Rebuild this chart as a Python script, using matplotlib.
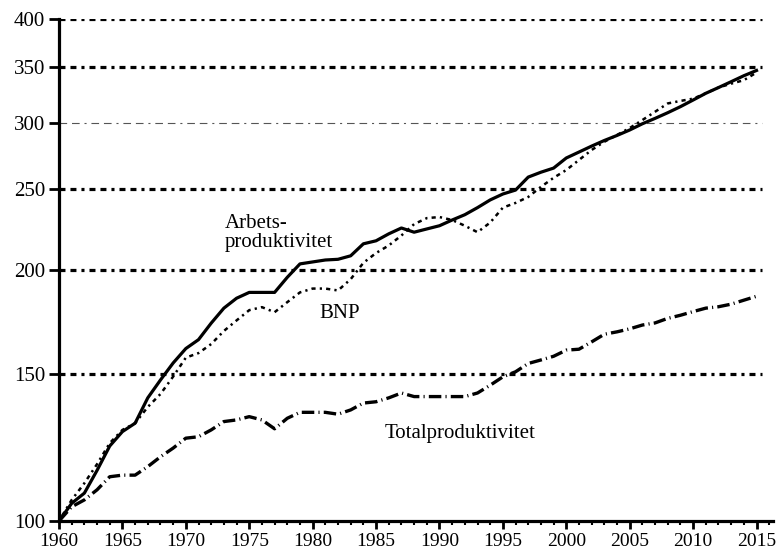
import matplotlib
matplotlib.use('Agg')
from matplotlib import pyplot as plt
from matplotlib.ticker import FixedLocator, NullLocator, MultipleLocator

# Index 1960 = 100
years = list(range(1960, 2016))

arbets = [100, 105, 108, 115, 123, 128, 131, 140.5, 147.6, 154.7, 161, 165, 172.7, 180, 185,
          188, 188, 188, 196, 203.4, 204.5,
          205.6, 206, 208, 215, 216.8, 221, 224.6, 222, 224, 226, 229.6, 233, 237.6, 242.7,
          246.7, 249.4, 258.5, 262, 265,
          272.5, 277, 281.6, 286, 290, 294.4, 299.5, 304, 308.8, 314, 319.8, 325.8, 331,
          336.4, 342, 347]

bnp = [100, 106, 111, 117, 124, 128.6, 131, 137, 142, 149, 157, 159, 163, 169, 174,
       179, 180.5, 178, 183, 188, 190,
       190, 189, 195, 204, 209.6, 214, 220, 227, 230.8, 231.5, 229.6, 226, 222, 228,
       237.6, 240.7, 244.7, 251.6, 258,
       263.6, 271, 278.6, 285, 290.4, 296, 302.6, 309.6, 316.8, 319, 321, 325.8, 331,
       334.6, 337.8, 345]

total = [100, 104, 106, 109, 113, 113.5, 113.5, 116.2, 119.4, 122.3, 125.7, 126.2, 128.6,
         131.6, 132.2, 133.4, 132.2, 129, 132.8, 135, 135,
         135, 134.3, 135.9, 138.5, 139, 140.5, 142.4, 141, 141, 141, 141, 141, 142.4, 145.5,
         148.9, 151, 154.5, 156, 157.6,
         160.3, 160.7, 164, 167.5, 168.6, 170, 171.8, 172.8, 175, 176.5, 178.3, 180, 180.7,
         182, 184, 186]

y_ticks = [100, 150, 200, 250, 300, 350, 400]
grid_thick = [150, 200, 250, 350, 400]
grid_thin = [300]
x_ticks = list(range(1960, 2016, 5))

plt.rcParams['font.family'] = ['Liberation Serif', 'DejaVu Serif']
plt.rcParams['lines.scale_dashes'] = False

fig = plt.figure(figsize=(7.79, 5.50), dpi=100)
ax = fig.add_axes([59 / 779, 29 / 550, 714 / 779, 502 / 550])

# dash-dot gridlines
for g in grid_thick:
    ax.axhline(g, xmax=0.985, color='black', linewidth=2.3,
               linestyle=(0, (4.3, 3.6, 4.3, 3.6, 2.2, 3.6)), zorder=1)
for g in grid_thin:
    ax.axhline(g, xmax=0.985, color='#555555', linewidth=0.8,
               linestyle=(0, (5.5, 3.5, 5.5, 3.5, 1.5, 3.5)), zorder=1)

ax.plot(years, arbets, color='black', linewidth=2.3, solid_joinstyle='round', zorder=3)
ax.plot(years, bnp, color='black', linewidth=1.8, linestyle=(0, (1.6, 3.0, 3.0, 3.0)), zorder=3)
ax.plot(years, total, color='black', linewidth=2.4, linestyle=(0, (9.0, 3.0, 0.8, 3.0)), zorder=3)

ax.set_yscale('log')
ax.set_ylim(100, 400)
ax.set_xlim(1960, 2016.3)

ax.yaxis.set_major_locator(FixedLocator(y_ticks))
ax.yaxis.set_minor_locator(NullLocator())
ax.set_yticklabels([str(v) for v in y_ticks])
ax.xaxis.set_major_locator(FixedLocator(x_ticks))
ax.xaxis.set_minor_locator(MultipleLocator(1))
ax.set_xticklabels([str(v) for v in x_ticks])

ax.tick_params(axis='y', which='major', labelsize=15, width=2, length=7, direction='out', pad=3)
ax.tick_params(axis='x', which='major', labelsize=14, width=2, length=6, direction='out', pad=3)
ax.tick_params(axis='x', which='minor', width=1.5, length=3, direction='out')

for side in ['top', 'right']:
    ax.spines[side].set_visible(False)
for side in ['left', 'bottom']:
    ax.spines[side].set_linewidth(2.3)

# series labels
ax.text(1973.1, 221.5, 'Arbets-\nproduktivitet', fontsize=15, ha='left', va='center', linespacing=1.0)
ax.text(1980.5, 177.6, 'BNP', fontsize=15, ha='left', va='center')
ax.text(1985.7, 127.3, 'Totalproduktivitet', fontsize=15, ha='left', va='center')

fig.savefig('out.png', dpi=100)
